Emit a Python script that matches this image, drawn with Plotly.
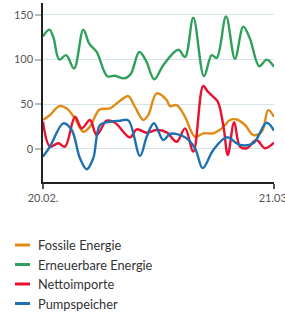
import plotly.graph_objects as go

# x positions are days after 20.02.
fossil_x = [0, 0.88, 2.05, 2.98, 4.02, 5.06, 5.9, 7.07, 8.41, 9.25, 10.08, 10.71, 11.55, 12.59, 13.22, 14.27, 15.53, 15.94, 16.78, 17.83, 19.08, 20.12, 21.38, 22.43, 23.47, 24.32, 25.36, 26.4, 27.46, 28.28, 29]
fossil_y = [32.4, 38, 48, 45.4, 34, 19.3, 25, 44, 45.4, 51, 56.6, 59.2, 47, 32.4, 38, 62.2, 54.7, 48, 49, 36, 13.7, 17.5, 17.5, 23, 32.4, 33, 26.8, 15.6, 19.3, 43.5, 36]

renew_x = [0, 0.8, 1.3, 2.05, 2.9, 3.9, 5.06, 5.8, 6.74, 8.07, 9.04, 10.17, 11.0, 12.09, 12.93, 13.97, 15.1, 16.99, 17.83, 18.87, 20.21, 21.18, 21.81, 22.98, 24.1, 25.15, 25.98, 27.15, 28.08, 29]
renew_y = [126, 133.6, 125, 100, 105, 90, 133.6, 118, 108.6, 81.5, 82, 79, 83.7, 108.6, 99, 78, 93.8, 111, 103, 147, 81.5, 105, 102, 148.4, 101, 137, 123.5, 92.6, 100, 92]

import_x = [0, 0.88, 1.92, 2.76, 4.02, 4.86, 5.9, 6.74, 8.0, 9.04, 10.92, 11.76, 13.02, 14.27, 15.53, 16.78, 17.83, 18.87, 20.11, 20.7, 21.3, 21.95, 22.66, 23.2, 24.0, 24.73, 25.57, 26.8, 27.86, 29]
import_y = [30.5, 2.6, 6.4, 2.6, 36, 23, 32.4, 15.6, 31.6, 29.4, 13, 22, 18.2, 21.2, 18.6, 8, 23, -3, 70.5, 64, 59, 52.8, 25, -6.7, 30, 2.6, 0.8, 10, 0.8, 7]

pump_x = [0, 0.88, 2.55, 3.6, 4.64, 5.49, 6.31, 7.16, 8.41, 9.67, 10.71, 12.18, 13.02, 13.93, 15.1, 16.0, 17.83, 19.08, 20.05, 21.38, 23.06, 24.73, 26.4, 28.08, 29]
pump_y = [-8.6, 2.6, 28.7, 21.2, -10.4, -22.7, -10.4, 26.8, 30.5, 31.6, 32, -7.8, 13.7, 28.7, 10, 17, 13, 0.8, -21.5, -1.1, 13, 4.5, 6.4, 29.4, 20.4]

names = ["Fossile Energie", "Erneuerbare Energie", "Nettoimporte", "Pumpspeicher"]
colors = ["#e08c14", "#2ea05a", "#e8102e", "#1d71b0"]

x_tick_vals = [0, 29]
x_tick_text = ["20.02.", "21.03."]
y_tick_vals = [0, 50, 100, 150]

W, H = 285, 312
ML, MR, MT, MB = 43, 11, 3, 130
PW, PH = W - ML - MR, H - MT - MB

def px_to_paper_x(px):
    return (px - ML) / PW

def py_to_paper_y(py):
    return (H - MB - py) / PH

fig = go.Figure()
for xs, ys, n, c in zip([fossil_x, renew_x, import_x, pump_x],
                        [fossil_y, renew_y, import_y, pump_y], names, colors):
    fig.add_trace(go.Scatter(x=xs, y=ys, name=n, mode="lines", showlegend=False,
                             line=dict(color=c, width=2.4, shape="spline", smoothing=1.0)))

# custom legend below the chart
legend_top = 245
legend_step = 19.5
for i, (n, c) in enumerate(zip(names, colors)):
    ypx = legend_top + i * legend_step
    fig.add_shape(type="line", xref="paper", yref="paper",
                  x0=px_to_paper_x(15), x1=px_to_paper_x(30),
                  y0=py_to_paper_y(ypx), y1=py_to_paper_y(ypx),
                  line=dict(color=c, width=3))
    fig.add_annotation(xref="paper", yref="paper", x=px_to_paper_x(35.5), y=py_to_paper_y(ypx),
                       text=n, showarrow=False, xanchor="left", yanchor="middle",
                       font=dict(size=12.8, color="#333"))

fig.update_layout(
    width=W, height=H,
    margin=dict(l=ML, r=MR, t=MT, b=MB, autoexpand=False),
    paper_bgcolor="white", plot_bgcolor="white",
    font=dict(family="Lato, Open Sans, sans-serif", size=11, color="#555"),
    xaxis=dict(range=[0, 29], tickvals=x_tick_vals, ticktext=x_tick_text,
               showgrid=False, zeroline=False, showline=True, linecolor="#222", linewidth=1.5,
               ticks="outside", ticklen=5, tickcolor="#555", tickwidth=1.5,
               ticklabeloverflow="allow", automargin=False),
    yaxis=dict(range=[-37, 163.4], tickvals=y_tick_vals,
               showgrid=True, gridcolor="#d6e3e9", gridwidth=1, zeroline=False,
               showline=True, linecolor="#222", linewidth=1.5,
               ticks="outside", ticklen=6, tickcolor="#bbb", tickwidth=1.5,
               automargin=False),
)
fig.write_html("out.html", config={"displayModeBar": False},
               post_script="document.body.style.margin='0';")
